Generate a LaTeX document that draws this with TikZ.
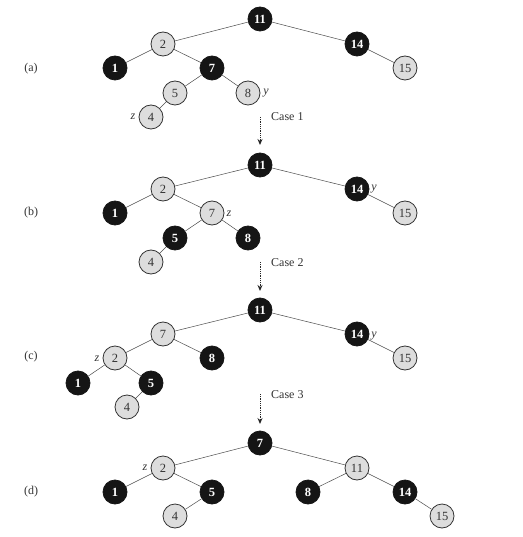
\documentclass[tikz,border=0pt]{standalone}
\usepackage{fontspec}
\setmainfont{Liberation Serif}
\usetikzlibrary{arrows.meta}
\definecolor{nodegray}{HTML}{DDDDDD}
\definecolor{nodeblack}{HTML}{151515}
\definecolor{inkgray}{HTML}{333333}
\tikzset{
  rbnode/.style={circle, minimum size=24pt, inner sep=0pt, line width=0.8pt},
  lite/.style={rbnode, fill=nodegray, draw=inkgray, text=inkgray,
    font=\fontsize{12.5}{14}\selectfont},
  blk/.style={rbnode, fill=nodeblack, draw=nodeblack, text=white,
    font=\fontsize{12.5}{14}\selectfont\bfseries},
  tedge/.style={draw=black!70, line width=0.5pt},
  ptr/.style={text=inkgray, font=\fontsize{12}{14}\selectfont\itshape, inner sep=0pt},
  partlabel/.style={text=inkgray, font=\fontsize{12}{14}\selectfont, inner sep=0pt},
  caselabel/.style={text=inkgray, font=\fontsize{12}{14}\selectfont, anchor=west, inner sep=0pt},
  casearrow/.style={draw=black!85, line width=1pt, dash pattern=on 0.8pt off 1pt,
    -{Stealth[length=6pt,width=5pt]}}
}
\begin{document}
\begin{tikzpicture}[x=1pt, y=-1pt]
\useasboundingbox (0,0) rectangle (522,537);

% ---------- (a) ----------
\node[partlabel] (la) at (31,69) {(a)};
\node[blk]  (a11) at (260,19)  {11};
\node[lite] (a2)  at (163,44)  {2};
\node[blk]  (a14) at (357,44)  {14};
\node[blk]  (a1)  at (115,68)  {1};
\node[blk]  (a7)  at (212,68)  {7};
\node[lite] (a15) at (405,68)  {15};
\node[lite] (a5)  at (175,93)  {5};
\node[lite] (a8)  at (248,93)  {8};
\node[lite] (a4)  at (151,117) {4};
\node[ptr]  (az)  at (133,117) {z};
\node[ptr]  (ay)  at (266,93)  {y};
\draw[tedge] (a11) -- (a2);
\draw[tedge] (a11) -- (a14);
\draw[tedge] (a2) -- (a1);
\draw[tedge] (a2) -- (a7);
\draw[tedge] (a14) -- (a15);
\draw[tedge] (a7) -- (a5);
\draw[tedge] (a7) -- (a8);
\draw[tedge] (a5) -- (a4);

% Case 1
\coordinate (c1s) at (260,117);
\coordinate (c1e) at (260,145);
\draw[casearrow] (c1s) -- (c1e);
\node[caselabel] (c1) at (271,117) {Case 1};

% ---------- (b) ----------
\node[partlabel] (lb) at (31,213) {(b)};
\node[blk]  (b11) at (260,165) {11};
\node[lite] (b2)  at (163,189) {2};
\node[blk]  (b14) at (357,189) {14};
\node[blk]  (b1)  at (115,213) {1};
\node[lite] (b7)  at (212,213) {7};
\node[lite] (b15) at (405,213) {15};
\node[blk]  (b5)  at (175,238) {5};
\node[blk]  (b8)  at (248,238) {8};
\node[lite] (b4)  at (151,262) {4};
\node[ptr]  (bz)  at (229,214) {z};
\node[ptr]  (by)  at (374,189) {y};
\draw[tedge] (b11) -- (b2);
\draw[tedge] (b11) -- (b14);
\draw[tedge] (b2) -- (b1);
\draw[tedge] (b2) -- (b7);
\draw[tedge] (b14) -- (b15);
\draw[tedge] (b7) -- (b5);
\draw[tedge] (b7) -- (b8);
\draw[tedge] (b5) -- (b4);

% Case 2
\coordinate (c2s) at (260,262);
\coordinate (c2e) at (260,291);
\draw[casearrow] (c2s) -- (c2e);
\node[caselabel] (c2) at (271,263) {Case 2};

% ---------- (c) ----------
\node[partlabel] (lc) at (31,357) {(c)};
\node[blk]  (c11) at (260,310) {11};
\node[lite] (c7)  at (163,334) {7};
\node[blk]  (c14) at (357,334) {14};
\node[lite] (c2n) at (115,358) {2};
\node[blk]  (c8)  at (212,358) {8};
\node[lite] (c15) at (405,358) {15};
\node[blk]  (cc1) at (78,383)  {1};
\node[blk]  (c5)  at (151,383) {5};
\node[lite] (c4)  at (127,407) {4};
\node[ptr]  (cz)  at (97,359)  {z};
\node[ptr]  (cy)  at (374,336) {y};
\draw[tedge] (c11) -- (c7);
\draw[tedge] (c11) -- (c14);
\draw[tedge] (c7) -- (c2n);
\draw[tedge] (c7) -- (c8);
\draw[tedge] (c14) -- (c15);
\draw[tedge] (c2n) -- (cc1);
\draw[tedge] (c2n) -- (c5);
\draw[tedge] (c5) -- (c4);

% Case 3
\coordinate (c3s) at (260,394);
\coordinate (c3e) at (260,424);
\draw[casearrow] (c3s) -- (c3e);
\node[caselabel] (c3) at (271,395) {Case 3};

% ---------- (d) ----------
\node[partlabel] (ld) at (31,492) {(d)};
\node[blk]  (d7)  at (260,443) {7};
\node[lite] (d2)  at (163,468) {2};
\node[lite] (d11) at (357,468) {11};
\node[blk]  (d1)  at (115,492) {1};
\node[blk]  (d5)  at (212,492) {5};
\node[blk]  (d8)  at (308,492) {8};
\node[blk]  (d14) at (405,492) {14};
\node[lite] (d4)  at (175,516) {4};
\node[lite] (d15) at (442,516) {15};
\node[ptr]  (dz)  at (145,468) {z};
\draw[tedge] (d7) -- (d2);
\draw[tedge] (d7) -- (d11);
\draw[tedge] (d2) -- (d1);
\draw[tedge] (d2) -- (d5);
\draw[tedge] (d11) -- (d8);
\draw[tedge] (d11) -- (d14);
\draw[tedge] (d5) -- (d4);
\draw[tedge] (d14) -- (d15);
\end{tikzpicture}
\end{document}
